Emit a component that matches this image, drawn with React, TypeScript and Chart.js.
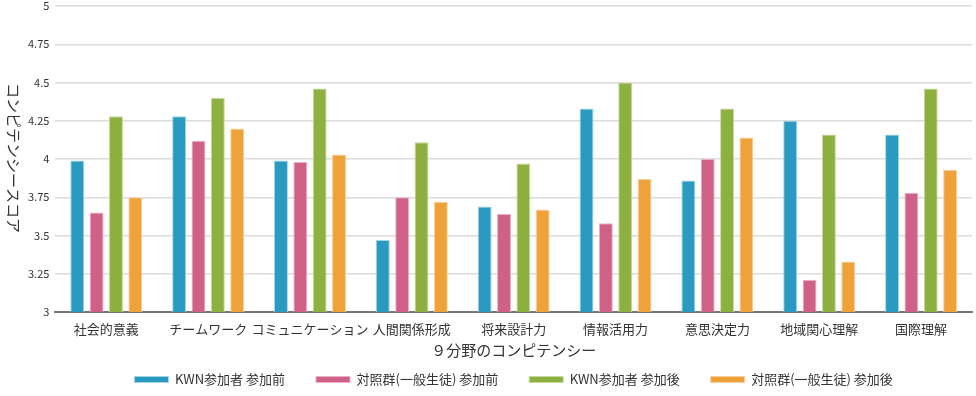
import React, { useEffect, useRef } from "react";
import { Chart, registerables } from "chart.js";

Chart.register(...registerables);

const categories = ["社会的意義", "チームワーク", "コミュニケーション", "人間関係形成", "将来設計力", "情報活用力", "意思決定力", "地域関心理解", "国際理解"];
const kwnBefore = [3.99, 4.28, 3.99, 3.47, 3.69, 4.33, 3.86, 4.25, 4.16];
const ctrlBefore = [3.65, 4.12, 3.98, 3.75, 3.64, 3.58, 4.0, 3.21, 3.78];
const kwnAfter = [4.28, 4.4, 4.46, 4.11, 3.97, 4.5, 4.33, 4.16, 4.46];
const ctrlAfter = [3.75, 4.2, 4.03, 3.72, 3.67, 3.87, 4.14, 3.33, 3.93];
const seriesNames = ["KWN参加者 参加前", "対照群(一般生徒) 参加前", "KWN参加者 参加後", "対照群(一般生徒) 参加後"];
const yTitle = "コンピテンシースコア";
const xTitle = "９分野のコンピテンシー";

const FONT = "'Noto Sans CJK JP', 'Noto Sans', sans-serif";

const titlesPlugin = {
  id: "customTitles",
  afterDraw(chart: any) {
    const { ctx, chartArea } = chart;
    ctx.save();
    ctx.font = `15px ${FONT}`;
    ctx.fillStyle = "#333";
    ctx.textAlign = "center";
    ctx.textBaseline = "middle";
    ctx.fillText(xTitle, (chartArea.left + chartArea.right) / 2, 350);
    ctx.translate(14, 158);
    ctx.rotate(Math.PI / 2);
    ctx.fillText(yTitle, 0, 0);
    ctx.restore();
  },
};

export default function App() {
  const ref = useRef<HTMLCanvasElement>(null);
  useEffect(() => {
    const colors = ["#2A9AC0", "#CF6088", "#8DB040", "#F0A23A"];
    const borders = ["#9fd3e6", "#eab0c4", "#c6da9f", "#f8d09c"];
    const data = [kwnBefore, ctrlBefore, kwnAfter, ctrlAfter];
    const chart = new Chart(ref.current!, {
      type: "bar",
      data: {
        labels: categories,
        datasets: data.map((d, i) => ({
          label: seriesNames[i],
          data: d,
          backgroundColor: colors[i],
          borderColor: borders[i],
          borderWidth: 1,
          categoryPercentage: 0.76,
          barPercentage: 0.72,
        })),
      },
      options: {
        animation: false,
        responsive: false,
        maintainAspectRatio: false,
        layout: { padding: { left: 22, right: 4, top: 6, bottom: 0 } },
        plugins: {
          legend: {
            position: "bottom",
            fullSize: false,
            labels: {
              boxWidth: 34,
              boxHeight: 6,
              padding: 31,
              color: "#333",
              font: { family: FONT, size: 13 },
            },
          },
          tooltip: { enabled: false },
        },
        scales: {
          x: {
            grid: { display: false },
            border: { color: "#777", width: 2 },
            ticks: { color: "#333", font: { family: FONT, size: 13 }, maxRotation: 0, autoSkip: false, padding: 1 },
            title: { display: false },
            afterFit: (s: any) => { s.height = 30; },
          },
          y: {
            min: 3,
            max: 5,
            ticks: {
              stepSize: 0.25,
              color: "#333",
              font: { family: FONT, size: 11 },
              padding: 6,
              callback: (v: any) => String(Math.round(Number(v) * 100) / 100),
            },
            grid: { color: "#dcdcdc", lineWidth: 1.5, drawTicks: false },
            border: { display: false },
            afterFit: (s: any) => { s.paddingTop = 0; s.paddingBottom = 0; },
          },
        },
      },
      plugins: [titlesPlugin],
    });
    return () => chart.destroy();
  }, []);
  return (
    <div style={{ position: "fixed", left: 0, top: 0, width: 976, height: 396, background: "#fff" }}>
      <canvas ref={ref} width={976} height={396} />
    </div>
  );
}
